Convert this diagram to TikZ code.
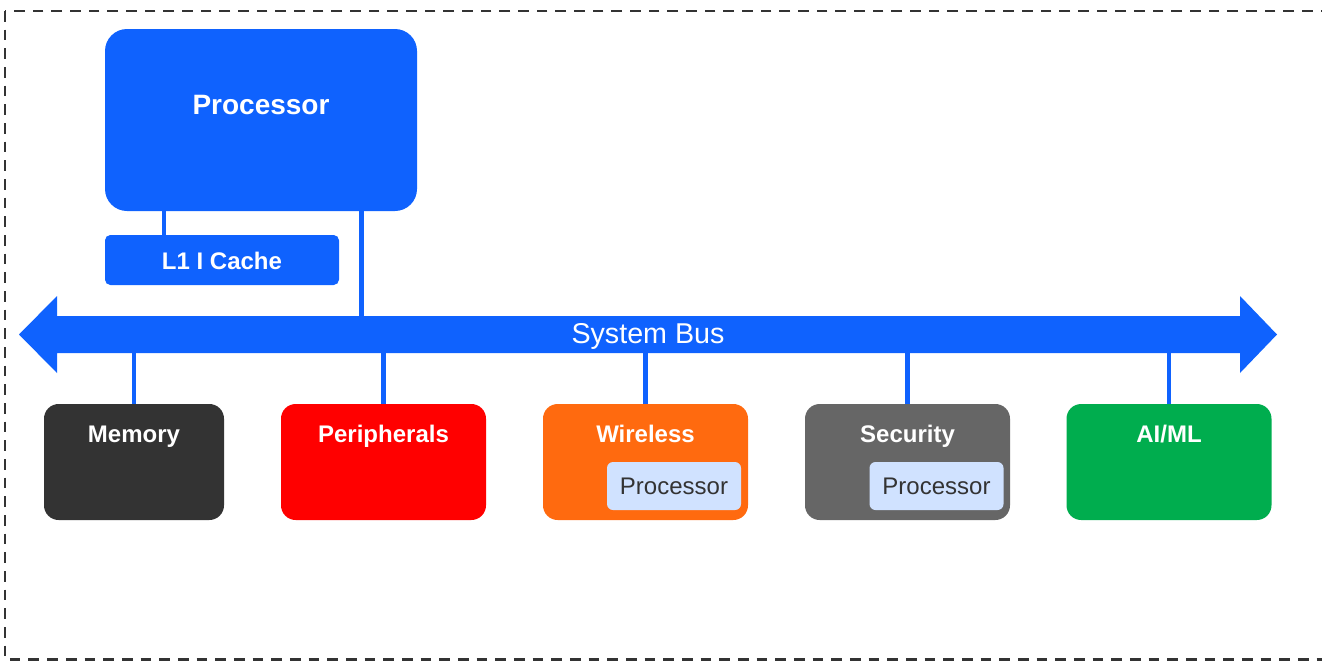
\documentclass[tikz,border=0pt]{standalone}
\usepackage{fontspec}
\setmainfont{Liberation Sans}
\definecolor{busblue}{HTML}{0F62FE}
\definecolor{memgray}{HTML}{333333}
\definecolor{perred}{HTML}{FF0000}
\definecolor{wirorange}{HTML}{FF6A0F}
\definecolor{secgray}{HTML}{666666}
\definecolor{aigreen}{HTML}{00AD4E}
\definecolor{innerblue}{HTML}{D0E2FF}
\definecolor{innertext}{HTML}{333333}
\definecolor{bordergray}{HTML}{333333}
\begin{document}
\begin{tikzpicture}[x=0.75pt,y=-0.75pt,
  blockbox/.style={rectangle, inner sep=0pt, draw=none, rounded corners=11pt, minimum height=87pt},
  titletext/.style={text=white, font=\fontsize{18}{21}\selectfont\bfseries, inner sep=0pt, anchor=base},
  innerbox/.style={rectangle, inner sep=0pt, fill=innerblue, rounded corners=4.5pt, minimum width=100.5pt, minimum height=36pt},
  innertextstyle/.style={text=innertext, font=\fontsize{18}{21}\selectfont, inner sep=0pt, anchor=base},
  conn/.style={draw=busblue, line width=3.4pt},
  borderline/.style={draw=bordergray, line width=1.9pt, dash pattern=on 8pt off 6pt}]
\useasboundingbox (0,0) rectangle (1322,661);
\draw[borderline] (5,11) rectangle (1345,659.5);

% processor and cache
\node[rectangle, inner sep=0pt, fill=busblue, rounded corners=16.5pt, minimum width=234pt, minimum height=136.5pt] (proc) at (261,120) {};
\node[titletext, font=\fontsize{21}{25}\selectfont\bfseries] (proct) at (261,114) {Processor};
\node[rectangle, inner sep=0pt, fill=busblue, rounded corners=4pt, minimum width=175.5pt, minimum height=37.5pt] (l1) at (222,260) {};
\node[titletext] (l1t) at (222,269) {L1 I Cache};

% bus
\fill[busblue] (19,334.5) -- (57,296) -- (57,316) -- (1240,316) -- (1240,296) -- (1277,334.5) -- (1240,373) -- (1240,353) -- (57,353) -- (57,373) -- cycle;
\node[rectangle, inner sep=0pt, minimum width=887.25pt, minimum height=27.75pt] (bus) at (648,334.5) {};
\node[text=white, font=\fontsize{21.5}{25}\selectfont, inner sep=0pt, anchor=base] (bust) at (648,343.3) {System Bus};

% blocks
\node[blockbox, fill=memgray, minimum width=135pt] (mem) at (134,462) {};
\node[blockbox, fill=perred, minimum width=153.75pt] (per) at (383.5,462) {};
\node[blockbox, fill=wirorange, minimum width=153.75pt] (wir) at (645.5,462) {};
\node[blockbox, fill=secgray, minimum width=153.75pt] (sec) at (907.5,462) {};
\node[blockbox, fill=aigreen, minimum width=153.75pt] (ai) at (1169,462) {};

\node[titletext] (memt) at (134,442.3) {Memory};
\node[titletext] (pert) at (383.5,442.3) {Peripherals};
\node[titletext] (wirt) at (645.5,442.3) {Wireless};
\node[titletext] (sect) at (907.5,442.3) {Security};
\node[titletext] (ait) at (1169,442.3) {AI/ML};

\node[innerbox] (wirp) at (674,486) {};
\node[innertextstyle] (wirpt) at (674,494.3) {Processor};
\node[innerbox] (secp) at (936.5,486) {};
\node[innertextstyle] (secpt) at (936.5,494.3) {Processor};

% connectors
\coordinate (c1) at (164,0);
\coordinate (c2) at (361.5,0);
\draw[conn] (c1 |- proc.south) -- (c1 |- l1.north);
\draw[conn] (c2 |- proc.south) -- (c2 |- bus.north);
\draw[conn] (mem.north |- bus.south) -- (mem.north);
\draw[conn] (per.north |- bus.south) -- (per.north);
\draw[conn] (wir.north |- bus.south) -- (wir.north);
\draw[conn] (sec.north |- bus.south) -- (sec.north);
\draw[conn] (ai.north |- bus.south) -- (ai.north);
\end{tikzpicture}
\end{document}
